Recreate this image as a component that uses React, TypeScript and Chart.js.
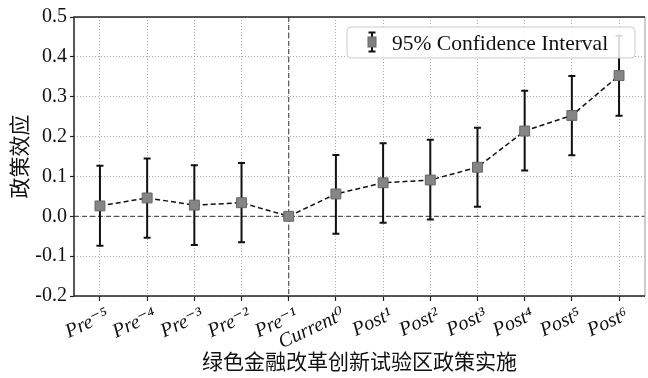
import React, { useEffect, useRef } from "react";
import { Chart, registerables } from "chart.js";

Chart.register(...registerables);

const labels = ["Pre⁻⁵", "Pre⁻⁴", "Pre⁻³", "Pre⁻²", "Pre⁻¹", "Current⁰", "Post¹", "Post²", "Post³", "Post⁴", "Post⁵", "Post⁶"];
const coef = [0.026, 0.046, 0.028, 0.034, 0, 0.056, 0.084, 0.091, 0.123, 0.214, 0.253, 0.353];
const lower: (number | null)[] = [-0.074, -0.054, -0.072, -0.065, null, -0.044, -0.016, -0.008, 0.024, 0.115, 0.153, 0.252];
const upper: (number | null)[] = [0.127, 0.145, 0.128, 0.134, null, 0.154, 0.183, 0.192, 0.222, 0.315, 0.352, 0.453];
const yTicks = [-0.2, -0.1, 0, 0.1, 0.2, 0.3, 0.4, 0.5];
const eventIndex = 4;
const legendLabel = "95% Confidence Interval";
const xTitle = "绿色金融改革创新试验区政策实施";
const yTitle = "政策效应";

const SERIF = '"Liberation Serif", "Times New Roman", "DejaVu Serif", serif';
const CJK = '"Noto Sans CJK SC", "Noto Sans", sans-serif';

const overlayPlugin = {
  id: "overlay",
  beforeDatasetsDraw(chart: any) {
    const { ctx, chartArea: a, scales } = chart;
    const xs = scales.x, ys = scales.y;
    ctx.save();
    // reference lines
    ctx.strokeStyle = "#555";
    ctx.lineWidth = 1.2;
    ctx.setLineDash([5, 3]);
    const y0 = ys.getPixelForValue(0);
    ctx.beginPath();
    ctx.moveTo(a.left, y0);
    ctx.lineTo(a.right, y0);
    ctx.stroke();
    const xe = xs.getPixelForValue(eventIndex);
    ctx.beginPath();
    ctx.moveTo(xe, a.top);
    ctx.lineTo(xe, a.bottom);
    ctx.stroke();
    ctx.setLineDash([]);
    // error bars
    ctx.strokeStyle = "#111";
    ctx.lineWidth = 2;
    for (let i = 0; i < labels.length; i++) {
      const lo = lower[i], hi = upper[i];
      if (lo == null || hi == null) continue;
      const x = xs.getPixelForValue(i);
      const yl = ys.getPixelForValue(lo);
      const yh = ys.getPixelForValue(hi);
      ctx.beginPath();
      ctx.moveTo(x, yl);
      ctx.lineTo(x, yh);
      ctx.moveTo(x - 3.5, yl);
      ctx.lineTo(x + 3.5, yl);
      ctx.moveTo(x - 3.5, yh);
      ctx.lineTo(x + 3.5, yh);
      ctx.stroke();
    }
    ctx.restore();
  },
  afterDraw(chart: any) {
    const { ctx, chartArea: a } = chart;
    ctx.save();
    // frame
    ctx.lineWidth = 1.5;
    ctx.strokeStyle = "#bbb";
    ctx.beginPath();
    ctx.moveTo(a.right, a.top);
    ctx.lineTo(a.right, a.bottom);
    ctx.stroke();
    ctx.strokeStyle = "#222";
    ctx.beginPath();
    ctx.moveTo(a.right, a.top);
    ctx.lineTo(a.left, a.top);
    ctx.lineTo(a.left, a.bottom);
    ctx.lineTo(a.right, a.bottom);
    ctx.stroke();
    // legend
    const lx = a.right - 298, ly = a.top + 10, lw = 288, lh = 31;
    ctx.beginPath();
    (ctx as any).roundRect(lx, ly, lw, lh, 4);
    ctx.fillStyle = "rgba(255,255,255,0.85)";
    ctx.fill();
    ctx.lineWidth = 1;
    ctx.strokeStyle = "#ccc";
    ctx.stroke();
    const mx = lx + 25, my = ly + 15;
    ctx.strokeStyle = "#111";
    ctx.lineWidth = 2;
    ctx.beginPath();
    ctx.moveTo(mx, my - 9.5);
    ctx.lineTo(mx, my + 9.5);
    ctx.moveTo(mx - 3.5, my - 9.5);
    ctx.lineTo(mx + 3.5, my - 9.5);
    ctx.moveTo(mx - 3.5, my + 9.5);
    ctx.lineTo(mx + 3.5, my + 9.5);
    ctx.stroke();
    ctx.fillStyle = "#808080";
    ctx.fillRect(mx - 4, my - 5, 8, 10);
    ctx.strokeStyle = "#666";
    ctx.lineWidth = 1;
    ctx.strokeRect(mx - 4, my - 5, 8, 10);
    ctx.fillStyle = "#111";
    ctx.font = `21.5px ${SERIF}`;
    ctx.textBaseline = "alphabetic";
    ctx.textAlign = "left";
    ctx.fillText(legendLabel, lx + 45, ly + 23);
    ctx.restore();
  },
};

export default function App() {
  const ref = useRef<HTMLCanvasElement | null>(null);
  useEffect(() => {
    if (!ref.current) return;
    const chart = new Chart(ref.current, {
      type: "line",
      data: {
        datasets: [
          {
            data: coef.map((v, i) => ({ x: i, y: v })),
            borderColor: "#111",
            borderWidth: 1.5,
            borderDash: [5, 3],
            pointStyle: "rect",
            pointRadius: 7,
            pointBackgroundColor: "#858585",
            pointBorderColor: "#666",
            pointBorderWidth: 1,
            fill: false,
            tension: 0,
          },
        ],
      },
      options: {
        responsive: false,
        animation: false,
        layout: { autoPadding: false, padding: { top: 17, right: 3, left: 0, bottom: 0 } },
        plugins: { legend: { display: false }, tooltip: { enabled: false } },
        scales: {
          x: {
            type: "linear",
            min: -0.55,
            max: 11.55,
            afterBuildTicks: (s: any) => {
              s.ticks = labels.map((_, i) => ({ value: i }));
            },
            afterFit: (s: any) => {
              s.height = 82;
              s.paddingLeft = 0;
              s.paddingRight = 0;
            },
            ticks: {
              autoSkip: false,
              minRotation: 25,
              maxRotation: 25,
              padding: 2,
              labelOffset: 8,
              color: "#111",
              font: { family: SERIF, size: 20, style: "italic" },
              callback: (v: any) => labels[Math.round(v)] ?? "",
            },
            grid: {
              color: "#aaa",
              lineWidth: 1,
              tickLength: 5,
              tickColor: "#222",
              tickWidth: 1.2,
            },
            border: { display: false, dash: [1, 2] },
            title: {
              display: true,
              text: xTitle,
              color: "#111",
              font: { family: CJK, size: 21 },
              padding: { top: 0, bottom: 4 },
            },
          },
          y: {
            min: -0.2,
            max: 0.5,
            afterBuildTicks: (s: any) => {
              s.ticks = yTicks.map((v) => ({ value: v }));
            },
            afterFit: (s: any) => {
              s.width = 74;
            },
            ticks: {
              padding: 3,
              color: "#111",
              font: { family: SERIF, size: 20 },
              callback: (v: any) => (Math.abs(v) < 1e-9 ? "0.0" : Number(v).toFixed(1)),
            },
            grid: {
              color: "#aaa",
              lineWidth: 1,
              tickLength: 4,
              tickColor: "#222",
              tickWidth: 1.2,
            },
            border: { display: false, dash: [1, 2] },
            title: {
              display: true,
              text: yTitle,
              color: "#111",
              font: { family: CJK, size: 21 },
              padding: { top: 6, bottom: 0 },
            },
          },
        },
      },
      plugins: [overlayPlugin],
    });
    return () => chart.destroy();
  }, []);
  return (
    <div style={{ position: "absolute", left: 0, top: 0, width: 648, height: 378, background: "#fff" }}>
      <canvas ref={ref} width={648} height={378} />
    </div>
  );
}
